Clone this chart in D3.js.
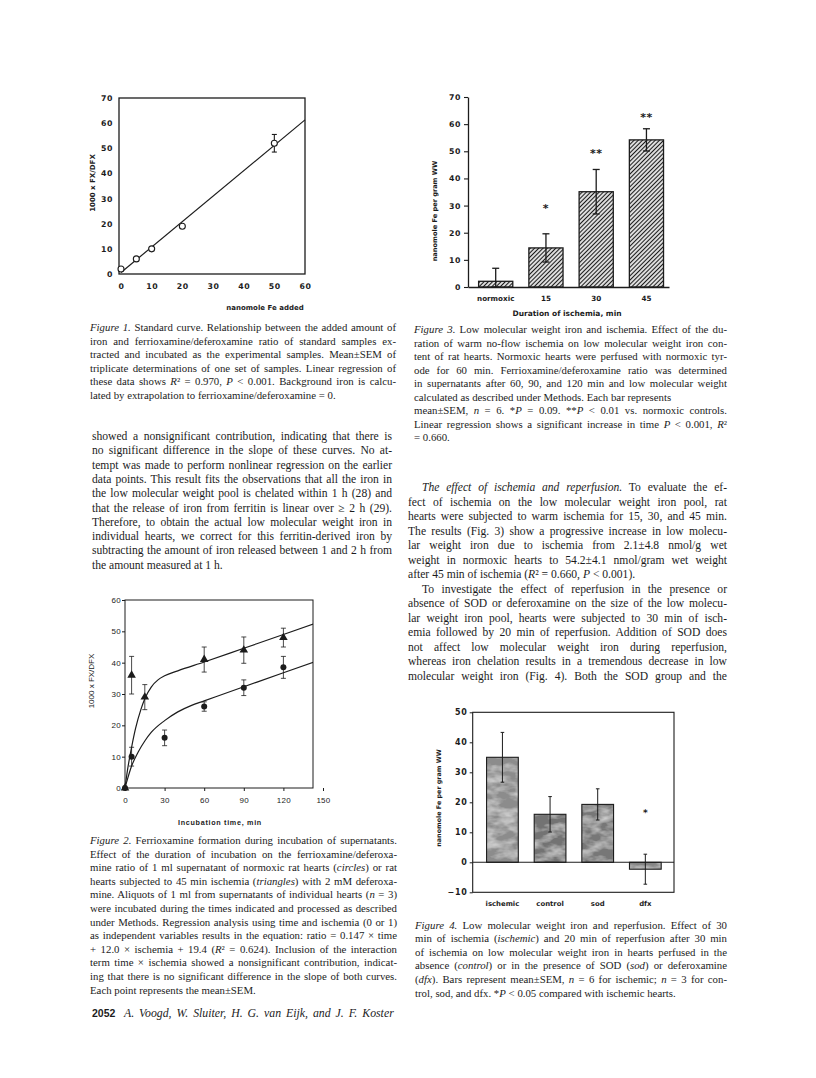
<!DOCTYPE html>
<html>
<head>
<meta charset="utf-8">
<script src="https://cdn.jsdelivr.net/npm/d3@7"></script>
<style>
  body { margin: 0; background: #fff; }
</style>
</head>
<body>
<div id="page"></div>
<script>
// ------- Figure 1 data (standard curve) -------
const fig1Fe = [0, 5, 10, 20, 50];
const fig1Ratio = [2, 6, 10, 19, 52];
const fig1Sem = [0, 0, 0, 0, 3.5];
const fig1FitFe = [0, 60];
const fig1FitRatio = [0.6, 61.3];
const fig1TicksX = [0, 10, 20, 30, 40, 50, 60];
const fig1TicksY = [0, 10, 20, 30, 40, 50, 60, 70];

// ------- Figure 2 data (incubation time) -------
const fig2CircTime = [0, 5, 30, 60, 90, 120];
const fig2CircRatio = [0, 10, 16, 26, 32, 38.5];
const fig2CircSem = [0, 3, 2.5, 1.5, 2.5, 3.5];
const fig2TriTime = [0, 5, 15, 60, 90, 120];
const fig2TriRatio = [0, 36, 29, 41, 44, 48];
const fig2TriSem = [0, 6, 4, 4, 4.2, 3];
const fig2CircCurveT = [0, 2, 5, 10, 15, 20, 30, 40, 50, 60, 90, 120, 145];
const fig2CircCurveY = [0, 3, 7, 11.5, 15, 17.8, 21.5, 24.3, 26.3, 27.8, 32.3, 36.8, 40.5];
const fig2TriCurveT = [0, 2, 5, 8, 12, 15, 20, 25, 30, 40, 60, 90, 120, 145];
const fig2TriCurveY = [0, 6, 13, 19, 25, 28.5, 32.3, 34.5, 35.8, 37.4, 40.2, 44.6, 49, 52.7];
const fig2TicksX = [0, 30, 60, 90, 120, 150];
const fig2TicksY = [0, 10, 20, 30, 40, 50, 60];

// ------- Figure 3 data (ischemia) -------
const fig3Groups = ["normoxic", "15", "30", "45"];
const fig3Iron = [2.1, 14.4, 35.1, 54.2];
const fig3Sem = [4.8, 5.2, 8.2, 4.1];
const fig3Stars = ["", "*", "**", "**"];
const fig3StarAt = [0, 30, 50, 63.5];
const fig3TicksY = [0, 10, 20, 30, 40, 50, 60, 70];

// ------- Figure 4 data (reperfusion) -------
const fig4Groups = ["ischemic", "control", "sod", "dfx"];
const fig4Iron = [35, 16, 19.3, -2.3];
const fig4Sem = [8.3, 5.9, 5.2, 5.0];
const fig4Stars = ["", "", "", "*"];
const fig4StarAt = [0, 0, 0, 17];
const fig4TicksY = [-10, 0, 10, 20, 30, 40, 50];

// ------- Page text ("_" toggles italic, "~" = ragged last line, ">" = indent) -------
const fig1Caption = [
  "_Figure 1._ Standard curve. Relationship between the added amount of",
  "iron and ferrioxamine/deferoxamine ratio of standard samples ex-",
  "tracted and incubated as the experimental samples. Mean±SEM of",
  "triplicate determinations of one set of samples. Linear regression of",
  "these data shows _R_² = 0.970, _P_ < 0.001. Background iron is calcu-",
  "lated by extrapolation to ferrioxamine/deferoxamine = 0.~"
];
const leftBody = [
  "showed a nonsignificant contribution, indicating that there is",
  "no significant difference in the slope of these curves. No at-",
  "tempt was made to perform nonlinear regression on the earlier",
  "data points. This result fits the observations that all the iron in",
  "the low molecular weight pool is chelated within 1 h (28) and",
  "that the release of iron from ferritin is linear over ≥ 2 h (29).",
  "Therefore, to obtain the actual low molecular weight iron in",
  "individual hearts, we correct for this ferritin-derived iron by",
  "subtracting the amount of iron released between 1 and 2 h from",
  "the amount measured at 1 h.~"
];
const fig2Caption = [
  "_Figure 2._ Ferrioxamine formation during incubation of supernatants.",
  "Effect of the duration of incubation on the ferrioxamine/deferoxa-",
  "mine ratio of 1 ml supernatant of normoxic rat hearts (_circles_) or rat",
  "hearts subjected to 45 min ischemia (_triangles_) with 2 mM deferoxa-",
  "mine. Aliquots of 1 ml from supernatants of individual hearts (_n_ = 3)",
  "were incubated during the times indicated and processed as described",
  "under Methods. Regression analysis using time and ischemia (0 or 1)",
  "as independent variables results in the equation: ratio = 0.147 × time",
  "+ 12.0 × ischemia + 19.4 (_R_² = 0.624). Inclusion of the interaction",
  "term time × ischemia showed a nonsignificant contribution, indicat-",
  "ing that there is no significant difference in the slope of both curves.",
  "Each point represents the mean±SEM.~"
];
const fig3Caption = [
  "_Figure 3._ Low molecular weight iron and ischemia. Effect of the du-",
  "ration of warm no-flow ischemia on low molecular weight iron con-",
  "tent of rat hearts. Normoxic hearts were perfused with normoxic tyr-",
  "ode for 60 min. Ferrioxamine/deferoxamine ratio was determined",
  "in supernatants after 60, 90, and 120 min and low molecular weight",
  "calculated as described under Methods. Each bar represents~",
  "mean±SEM, _n_ = 6. *_P_ = 0.09. **_P_ < 0.01 vs. normoxic controls.",
  "Linear regression shows a significant increase in time _P_ < 0.001, _R_²",
  "= 0.660.~"
];
const rightBody = [
  ">_The effect of ischemia and reperfusion._ To evaluate the ef-",
  "fect of ischemia on the low molecular weight iron pool, rat",
  "hearts were subjected to warm ischemia for 15, 30, and 45 min.",
  "The results (Fig. 3) show a progressive increase in low molecu-",
  "lar weight iron due to ischemia from 2.1±4.8 nmol/g wet",
  "weight in normoxic hearts to 54.2±4.1 nmol/gram wet weight",
  "after 45 min of ischemia (_R_² = 0.660, _P_ < 0.001).~",
  ">To investigate the effect of reperfusion in the presence or",
  "absence of SOD or deferoxamine on the size of the low molecu-",
  "lar weight iron pool, hearts were subjected to 30 min of isch-",
  "emia followed by 20 min of reperfusion. Addition of SOD does",
  "not affect low molecular weight iron during reperfusion,",
  "whereas iron chelation results in a tremendous decrease in low",
  "molecular weight iron (Fig. 4). Both the SOD group and the"
];
const fig4Caption = [
  "_Figure 4._ Low molecular weight iron and reperfusion. Effect of 30",
  "min of ischemia (_ischemic_) and 20 min of reperfusion after 30 min",
  "of ischemia on low molecular weight iron in hearts perfused in the",
  "absence (_control_) or in the presence of SOD (_sod_) or deferoxamine",
  "(_dfx_). Bars represent mean±SEM, _n_ = 6 for ischemic; _n_ = 3 for con-",
  "trol, sod, and dfx. *_P_ < 0.05 compared with ischemic hearts.~"
];

// ------- Page setup -------
const INK = "#1c1c1c";
const SERIF = "'Liberation Serif', 'Times New Roman', serif";
const SANS = "'Liberation Sans', Arial, sans-serif";
const WIDE = "'DejaVu Sans', sans-serif";

const svg = d3.select("#page")
  .append("svg")
  .attr("width", 816)
  .attr("height", 1078)
  .style("display", "block")
  .style("background", "#fff");

const defs = svg.append("defs");

// diagonal hatching for figure 3
const hatch = defs.append("pattern")
  .attr("id", "hatch")
  .attr("patternUnits", "userSpaceOnUse")
  .attr("width", 3)
  .attr("height", 3)
  .attr("patternTransform", "rotate(45)");
hatch.append("rect").attr("width", 3).attr("height", 3).attr("fill", "#fff");
hatch.append("line")
  .attr("x1", 1.5).attr("y1", 0).attr("x2", 1.5).attr("y2", 3)
  .attr("stroke", INK).attr("stroke-width", 1.3);

// mottled grey (halftone look) for figure 4
const mottle = defs.append("filter")
  .attr("id", "mottle")
  .attr("x", 0).attr("y", 0).attr("width", 1).attr("height", 1);
mottle.append("feTurbulence")
  .attr("type", "fractalNoise")
  .attr("baseFrequency", "0.06 0.12")
  .attr("numOctaves", 3)
  .attr("seed", 7)
  .attr("result", "noise");
mottle.append("feColorMatrix")
  .attr("in", "noise")
  .attr("type", "matrix")
  .attr("values", "0 0 0 0 0.78  0 0 0 0 0.78  0 0 0 0 0.78  1.5 0 0 0 -0.55")
  .attr("result", "light");
mottle.append("feComposite")
  .attr("in", "light").attr("in2", "SourceGraphic")
  .attr("operator", "in").attr("result", "lightIn");
const merge = mottle.append("feMerge");
merge.append("feMergeNode").attr("in", "SourceGraphic");
merge.append("feMergeNode").attr("in", "lightIn");

// ------- Text helper -------
function textBlock(lines, x, y0, lineH, width, size) {
  const g = svg.append("g");
  lines.forEach((raw, i) => {
    let str = raw;
    let indent = 0;
    let justify = true;
    if (str.startsWith(">")) { indent = 14; str = str.slice(1); }
    if (str.endsWith("~")) { justify = false; str = str.slice(0, -1); }

    const t = g.append("text")
      .attr("x", x + indent)
      .attr("y", y0 + i * lineH)
      .attr("font-family", SERIF)
      .attr("font-size", size)
      .attr("fill", INK);

    str.split("_").forEach((part, k) => {
      if (!part) return;
      t.append("tspan")
        .attr("font-style", k % 2 ? "italic" : null)
        .text(part);
    });

    if (justify) {
      const natural = t.node().getComputedTextLength();
      const spaces = (str.match(/ /g) || []).length;
      if (spaces) t.attr("word-spacing", (width - indent - natural) / spaces);
    }
  });
}

textBlock(fig1Caption, 90, 331, 13.6, 306, 10.8);
textBlock(leftBody, 92, 440, 14.3, 300, 11.6);
textBlock(fig2Caption, 90, 844, 13.6, 307, 10.8);
textBlock(fig3Caption, 414, 333, 13.5, 313, 10.8);
textBlock(rightBody, 408, 491, 14.5, 319, 11.6);
textBlock(fig4Caption, 415, 928.5, 13.6, 312, 10.8);

// footer
svg.append("text")
  .attr("x", 92).attr("y", 1017)
  .attr("font-family", SANS).attr("font-weight", "bold")
  .attr("font-size", 10.5).attr("fill", INK)
  .text("2052");
svg.append("text")
  .attr("x", 124).attr("y", 1017)
  .attr("font-family", SERIF).attr("font-style", "italic")
  .attr("font-size", 11.8).attr("fill", INK)
  .attr("word-spacing", 2)
  .text("A. Voogd, W. Sluiter, H. G. van Eijk, and J. F. Koster");

// small helper for a vertical error bar with caps
function errorBar(g, cx, yLo, yHi, cap, w) {
  g.append("line").attr("x1", cx).attr("x2", cx).attr("y1", yLo).attr("y2", yHi)
    .attr("stroke", INK).attr("stroke-width", w);
  [yLo, yHi].forEach(yy => {
    g.append("line").attr("x1", cx - cap).attr("x2", cx + cap).attr("y1", yy).attr("y2", yy)
      .attr("stroke", INK).attr("stroke-width", w);
  });
}

function styleTicks(axisG, family, size, weight, spacing) {
  axisG.select(".domain").remove();
  axisG.selectAll("line").attr("stroke", INK);
  axisG.selectAll("text")
    .attr("font-family", family)
    .attr("font-size", size)
    .attr("font-weight", weight)
    .attr("letter-spacing", spacing)
    .attr("fill", INK);
}

// ------- Figure 1 -------
{
  const g = svg.append("g");
  const x = d3.scaleLinear().domain([0, 60]).range([121, 305]);
  const y = d3.scaleLinear().domain([0, 70]).range([274, 98]);

  g.append("rect")
    .attr("x", x(0) - 2).attr("y", y(70))
    .attr("width", x(60) - x(0) + 2).attr("height", y(0) - y(70))
    .attr("fill", "none").attr("stroke", INK).attr("stroke-width", 1.3);

  const ax = g.append("g").attr("transform", `translate(0,${y(0)})`)
    .call(d3.axisBottom(x).tickValues(fig1TicksX).tickSize(0).tickPadding(9));
  styleTicks(ax, WIDE, 7.8, "bold", 0.6);

  const ay = g.append("g").attr("transform", `translate(${x(0) - 2},0)`)
    .call(d3.axisLeft(y).tickValues(fig1TicksY).tickSize(0).tickPadding(6));
  styleTicks(ay, WIDE, 7.8, "bold", 0.6);

  // regression line
  g.append("line")
    .attr("x1", x(fig1FitFe[0])).attr("y1", y(fig1FitRatio[0]))
    .attr("x2", x(fig1FitFe[1])).attr("y2", y(fig1FitRatio[1]))
    .attr("stroke", INK).attr("stroke-width", 1.2);

  fig1Fe.forEach((fe, i) => {
    if (fig1Sem[i] > 0) {
      errorBar(g, x(fe), y(fig1Ratio[i] - fig1Sem[i]), y(fig1Ratio[i] + fig1Sem[i]), 2.5, 1.1);
    }
    g.append("circle")
      .attr("cx", x(fe)).attr("cy", y(fig1Ratio[i])).attr("r", 3)
      .attr("fill", "#fff").attr("stroke", INK).attr("stroke-width", 1.1);
  });

  g.append("text")
    .attr("x", 265).attr("y", 310)
    .attr("text-anchor", "middle")
    .attr("font-family", WIDE).attr("font-weight", "bold").attr("font-size", 7)
    .attr("fill", INK)
    .text("nanomole Fe added");

  g.append("text")
    .attr("transform", "translate(94.5,183) rotate(-90)")
    .attr("text-anchor", "middle")
    .attr("font-family", WIDE).attr("font-weight", "bold").attr("font-size", 7)
    .attr("fill", INK)
    .text("1000 x FX/DFX");
}

// ------- Figure 2 -------
{
  const g = svg.append("g");
  const x = d3.scaleLinear().domain([0, 150]).range([125, 323]);
  const y = d3.scaleLinear().domain([0, 60]).range([788, 600]);
  const frameRight = 313;

  defs.append("clipPath").attr("id", "clip2")
    .append("rect")
    .attr("x", x(0)).attr("y", y(60))
    .attr("width", frameRight - x(0)).attr("height", y(0) - y(60));

  g.append("rect")
    .attr("x", x(0)).attr("y", y(60))
    .attr("width", frameRight - x(0)).attr("height", y(0) - y(60))
    .attr("fill", "none").attr("stroke", INK).attr("stroke-width", 1);

  const ax = g.append("g").attr("transform", `translate(0,${y(0)})`)
    .call(d3.axisBottom(x).tickValues(fig2TicksX).tickSize(3).tickPadding(6));
  styleTicks(ax, SANS, 8, "normal", 0.3);

  const ay = g.append("g").attr("transform", `translate(${x(0)},0)`)
    .call(d3.axisLeft(y).tickValues(fig2TicksY).tickSize(3).tickPadding(1));
  styleTicks(ay, SANS, 8, "normal", 0.3);

  const line = d3.line()
    .x(d => x(d[0]))
    .y(d => y(d[1]))
    .curve(d3.curveMonotoneX);

  const curves = g.append("g").attr("clip-path", "url(#clip2)");
  curves.append("path")
    .attr("d", line(fig2TriCurveT.map((t, i) => [t, fig2TriCurveY[i]])))
    .attr("fill", "none").attr("stroke", INK).attr("stroke-width", 1.2);
  curves.append("path")
    .attr("d", line(fig2CircCurveT.map((t, i) => [t, fig2CircCurveY[i]])))
    .attr("fill", "none").attr("stroke", INK).attr("stroke-width", 1.2);

  fig2CircTime.forEach((t, i) => {
    if (fig2CircSem[i] > 0) {
      errorBar(g, x(t), y(fig2CircRatio[i] - fig2CircSem[i]), y(fig2CircRatio[i] + fig2CircSem[i]), 2.5, 0.8);
    }
  });
  fig2TriTime.forEach((t, i) => {
    if (fig2TriSem[i] > 0) {
      errorBar(g, x(t), y(fig2TriRatio[i] - fig2TriSem[i]), y(fig2TriRatio[i] + fig2TriSem[i]), 2.5, 0.8);
    }
  });

  const tri = d3.symbol().type(d3.symbolTriangle).size(32);
  fig2TriTime.forEach((t, i) => {
    g.append("path")
      .attr("d", tri())
      .attr("transform", `translate(${x(t)},${y(fig2TriRatio[i])})`)
      .attr("fill", INK);
  });
  fig2CircTime.forEach((t, i) => {
    g.append("circle")
      .attr("cx", x(t)).attr("cy", y(fig2CircRatio[i])).attr("r", 3)
      .attr("fill", INK);
  });

  g.append("text")
    .attr("x", 220).attr("y", 825)
    .attr("text-anchor", "middle")
    .attr("font-family", SANS).attr("font-weight", "bold").attr("font-size", 7.2)
    .attr("letter-spacing", 0.7)
    .attr("fill", INK)
    .text("Incubation time, min");

  g.append("text")
    .attr("transform", "translate(94,681) rotate(-90)")
    .attr("text-anchor", "middle")
    .attr("font-family", SANS).attr("font-size", 8)
    .attr("fill", INK)
    .text("1000 x FX/DFX");
}

// ------- Figure 3 -------
{
  const g = svg.append("g");
  const x = d3.scaleBand()
    .domain(fig3Groups)
    .range([468, 669])
    .paddingInner(0.32)
    .paddingOuter(0.16)
    .align(0.66);
  const y = d3.scaleLinear().domain([0, 70]).range([287, 97]);

  g.selectAll("rect.bar")
    .data(fig3Groups)
    .enter()
    .append("rect")
    .attr("class", "bar")
    .attr("x", d => x(d))
    .attr("width", x.bandwidth())
    .attr("y", (d, i) => y(fig3Iron[i]))
    .attr("height", (d, i) => y(0) - y(fig3Iron[i]))
    .attr("fill", "url(#hatch)")
    .attr("stroke", INK)
    .attr("stroke-width", 1.3);

  fig3Groups.forEach((d, i) => {
    const cx = x(d) + x.bandwidth() / 2;
    const lo = Math.max(0, fig3Iron[i] - fig3Sem[i]);
    errorBar(g, cx, y(lo), y(fig3Iron[i] + fig3Sem[i]), 3.5, 1.3);
    if (fig3Stars[i]) {
      g.append("text")
        .attr("x", cx).attr("y", y(fig3StarAt[i]) + 6)
        .attr("text-anchor", "middle")
        .attr("font-family", WIDE).attr("font-weight", "bold").attr("font-size", 11)
        .attr("letter-spacing", 0.5)
        .attr("fill", INK)
        .text(fig3Stars[i]);
    }
  });

  const ax = g.append("g").attr("transform", `translate(0,${y(0)})`)
    .call(d3.axisBottom(x).tickSize(0).tickPadding(9));
  ax.select(".domain").attr("stroke", INK).attr("stroke-width", 1.3);
  ax.selectAll("text")
    .attr("font-family", WIDE).attr("font-weight", "bold").attr("font-size", 7.2)
    .attr("fill", INK);

  const ay = g.append("g").attr("transform", `translate(468,0)`)
    .call(d3.axisLeft(y).tickValues(fig3TicksY).tickSize(4).tickSizeOuter(0).tickPadding(3));
  ay.select(".domain").attr("stroke", INK).attr("stroke-width", 1.3);
  ay.selectAll("line").attr("stroke", INK).attr("stroke-width", 1.1);
  ay.selectAll("text")
    .attr("font-family", WIDE).attr("font-weight", "bold").attr("font-size", 7.8)
    .attr("letter-spacing", 0.6)
    .attr("fill", INK);

  g.append("text")
    .attr("x", 567).attr("y", 316)
    .attr("text-anchor", "middle")
    .attr("font-family", WIDE).attr("font-weight", "bold").attr("font-size", 7.5)
    .attr("fill", INK)
    .text("Duration of ischemia, min");

  g.append("text")
    .attr("transform", "translate(437,211) rotate(-90)")
    .attr("text-anchor", "middle")
    .attr("font-family", WIDE).attr("font-weight", "bold").attr("font-size", 6.6)
    .attr("fill", INK)
    .text("nanomole Fe per gram WW");
}

// ------- Figure 4 -------
{
  const g = svg.append("g");
  const barGrey = d3.scaleOrdinal()
    .domain(fig4Groups)
    .range(["#8c8c8c", "#737373", "#777777", "#858585"]);
  const x = d3.scaleBand()
    .domain(fig4Groups)
    .range([472.7, 674])
    .paddingInner(0.334)
    .paddingOuter(0.28)
    .align(0.52);
  const y = d3.scaleLinear().domain([-10, 50]).range([892.3, 712.3]);

  g.append("rect")
    .attr("x", x.range()[0]).attr("y", y(50))
    .attr("width", x.range()[1] - x.range()[0]).attr("height", y(-10) - y(50))
    .attr("fill", "none").attr("stroke", INK).attr("stroke-width", 1.1);

  const top = v => y(Math.max(0, v));
  const hgt = v => Math.abs(y(v) - y(0));

  // mottled fill, then a clean outline on top
  g.selectAll("rect.fill")
    .data(fig4Groups)
    .enter()
    .append("rect")
    .attr("class", "fill")
    .attr("x", d => x(d))
    .attr("width", x.bandwidth())
    .attr("y", (d, i) => top(fig4Iron[i]))
    .attr("height", (d, i) => hgt(fig4Iron[i]))
    .attr("fill", d => barGrey(d))
    .attr("filter", "url(#mottle)");

  g.selectAll("rect.edge")
    .data(fig4Groups)
    .enter()
    .append("rect")
    .attr("class", "edge")
    .attr("x", d => x(d))
    .attr("width", x.bandwidth())
    .attr("y", (d, i) => top(fig4Iron[i]))
    .attr("height", (d, i) => hgt(fig4Iron[i]))
    .attr("fill", "none")
    .attr("stroke", INK)
    .attr("stroke-width", 1.1);

  // zero line
  g.append("line")
    .attr("x1", x.range()[0]).attr("x2", x.range()[1])
    .attr("y1", y(0)).attr("y2", y(0))
    .attr("stroke", INK).attr("stroke-width", 1.1);

  fig4Groups.forEach((d, i) => {
    const cx = x(d) + x.bandwidth() / 2;
    errorBar(g, cx, y(fig4Iron[i] - fig4Sem[i]), y(fig4Iron[i] + fig4Sem[i]), 1.8, 1);
    if (fig4Stars[i]) {
      g.append("text")
        .attr("x", cx).attr("y", y(fig4StarAt[i]) + 5)
        .attr("text-anchor", "middle")
        .attr("font-family", WIDE).attr("font-weight", "bold").attr("font-size", 9)
        .attr("fill", INK)
        .text(fig4Stars[i]);
    }
  });

  const ax = g.append("g").attr("transform", `translate(0,${y(-10)})`)
    .call(d3.axisBottom(x).tickSize(0).tickPadding(9));
  ax.select(".domain").remove();
  ax.selectAll("text")
    .attr("font-family", WIDE).attr("font-weight", "bold").attr("font-size", 6.9)
    .attr("fill", INK);

  const ay = g.append("g").attr("transform", `translate(${x.range()[0]},0)`)
    .call(d3.axisLeft(y).tickValues(fig4TicksY).tickSize(3).tickPadding(2)
      .tickFormat(v => v < 0 ? "\u2212" + Math.abs(v) : v));
  styleTicks(ay, WIDE, 8, "bold", 0.8);

  g.append("text")
    .attr("transform", "translate(441,798) rotate(-90)")
    .attr("text-anchor", "middle")
    .attr("font-family", WIDE).attr("font-weight", "bold").attr("font-size", 6.4)
    .attr("fill", INK)
    .text("nanomole Fe per gram WW");
}
</script>
</body>
</html>
